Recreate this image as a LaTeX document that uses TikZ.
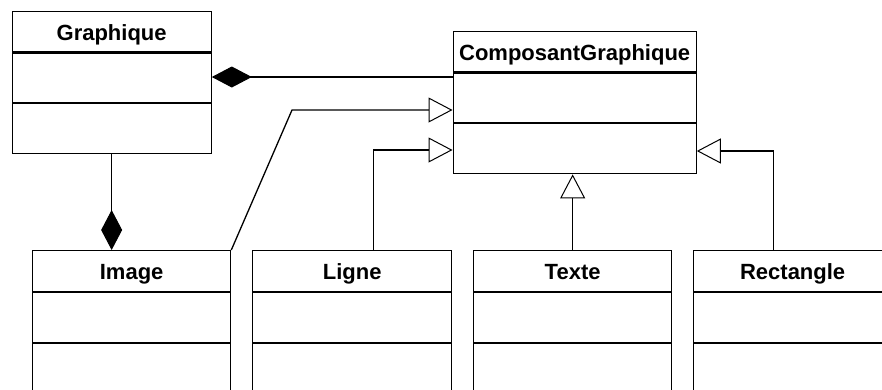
\documentclass[tikz,border=0pt]{standalone}
\usepackage{fontspec}
\setmainfont{Liberation Sans}
\usetikzlibrary{arrows.meta,calc}
\tikzset{
  umlline/.style={line width=1.3pt, draw=black},
  head/.style={umlline, inner sep=0pt, minimum height=40.5pt, anchor=north west,
    text height=20pt, text depth=2.5pt,
    font=\bfseries\fontsize{22}{22}\selectfont},
  part/.style={umlline, inner sep=0pt, anchor=north},
  compo/.style={umlline, -{Diamond[length=40pt,width=21pt,fill=black,line width=1pt]}},
  gener/.style={umlline, -{Triangle[open,length=24pt,width=25pt,fill=white,line width=1pt]}},
}
\begin{document}
\begin{tikzpicture}[x=1pt,y=-1pt]
\useasboundingbox (0,0) rectangle (882,389);
\clip (0,0) rectangle (882,389);
\fill[white] (0,0) rectangle (882,389);
% Graphique
\node[head, minimum width=199pt] (gH) at (11.5,10.5) {Graphique};
\node[part, minimum width=199pt, minimum height=49.5pt] (gA) at (gH.south) {};
\node[part, minimum width=199pt, minimum height=50pt] (gO) at (gA.south) {};
% ComposantGraphique
\node[head, minimum width=243pt] (cH) at (452.5,30.5) {ComposantGraphique};
\node[part, minimum width=243pt, minimum height=49.5pt] (cA) at (cH.south) {};
\node[part, minimum width=243pt, minimum height=50pt] (cO) at (cA.south) {};
% Image
\node[head, minimum width=198pt] (iH) at (32,250) {Image};
\node[part, minimum width=198pt, minimum height=50pt] (iA) at (iH.south) {};
\node[part, minimum width=198pt, minimum height=70pt] (iO) at (iA.south) {};
% Ligne
\node[head, minimum width=199pt] (lH) at (252,250) {Ligne};
\node[part, minimum width=199pt, minimum height=50pt] (lA) at (lH.south) {};
\node[part, minimum width=199pt, minimum height=70pt] (lO) at (lA.south) {};
% Texte
\node[head, minimum width=198pt] (tH) at (473,250) {Texte};
\node[part, minimum width=198pt, minimum height=50pt] (tA) at (tH.south) {};
\node[part, minimum width=198pt, minimum height=70pt] (tO) at (tA.south) {};
% Rectangle
\node[head, minimum width=198pt] (rH) at (693,250) {Rectangle};
\node[part, minimum width=198pt, minimum height=50pt] (rA) at (rH.south) {};
\node[part, minimum width=198pt, minimum height=70pt] (rO) at (rA.south) {};
% connectors
\draw[compo] (cA.west |- 0,77) -- (gA.east |- 0,77);
\draw[compo] (gO.south) -- (gO.south |- iH.north);
\coordinate (bend) at (292,110);
\draw[gener] (iH.north east) -- (bend) -- (cA.west |- bend);
\draw[gener] ([xshift=21.5pt]lH.north) |- (cO.west |- 0,150);
\draw[gener] (tH.north) -- (tH.north |- cO.south);
\draw[gener] ([xshift=-19pt]rH.north) |- (cO.east |- 0,151);
\end{tikzpicture}
\end{document}
